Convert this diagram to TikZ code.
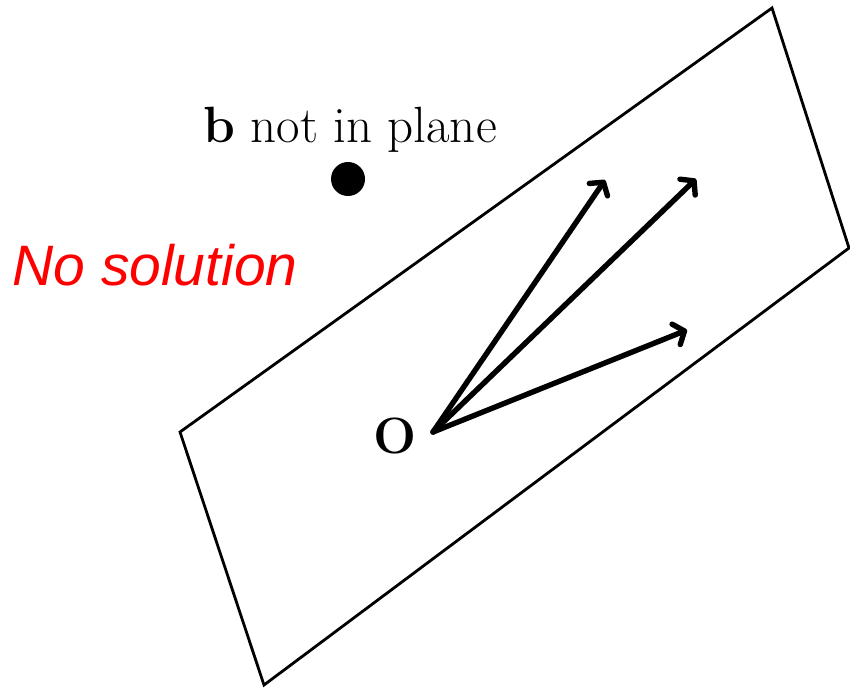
\documentclass[tikz,border=0pt]{standalone}
\usepackage{fontspec}
\usetikzlibrary{arrows.meta}
\newfontfamily\nosolfont{Liberation Sans}
\tikzset{
  plane/.style={draw=black, line width=2.8pt, line join=miter},
  vec/.style={-{Straight Barb[length=9pt,width=22pt,line cap=round,line join=round]}, line width=5.4pt, line cap=round},
  bigtext/.style={font=\fontsize{51}{61}\selectfont, inner sep=0pt}
}
\begin{document}
\begin{tikzpicture}[x=1pt,y=-1pt]
        \useasboundingbox (0,0) rectangle (850,687);
        % plane
        \coordinate (p1) at (180,432);
        \coordinate (p2) at (772,8);
        \coordinate (p3) at (849,248);
        \coordinate (p4) at (264,685);
        \begin{scope}
          \clip (0,0) rectangle (850,687);
          \draw[plane] (p1) -- (p2) -- (p3) -- (p4) -- cycle;
        \end{scope}
        % vectors from the origin
        \coordinate (O) at (433,432);
        \coordinate (v1) at (605,180);
        \coordinate (v2) at (696,179);
        \coordinate (v3) at (687,330);
        \draw[vec] (O) -- (v1);
        \draw[vec] (O) -- (v2);
        \draw[vec] (O) -- (v3);
        \node[bigtext] (olabel) at (395,436) {\textbf{O}};
        % point b
        \node[circle, fill=black, inner sep=0pt, minimum size=34pt] (b) at (348,179) {};
        \node[bigtext] (blabel) at (350,130) {\textbf{b} not in plane};
        \node[bigtext, text=red, font=\nosolfont\itshape\fontsize{57}{68}\selectfont] (nosol) at (155,265) {No solution};
\end{tikzpicture}
\end{document}
